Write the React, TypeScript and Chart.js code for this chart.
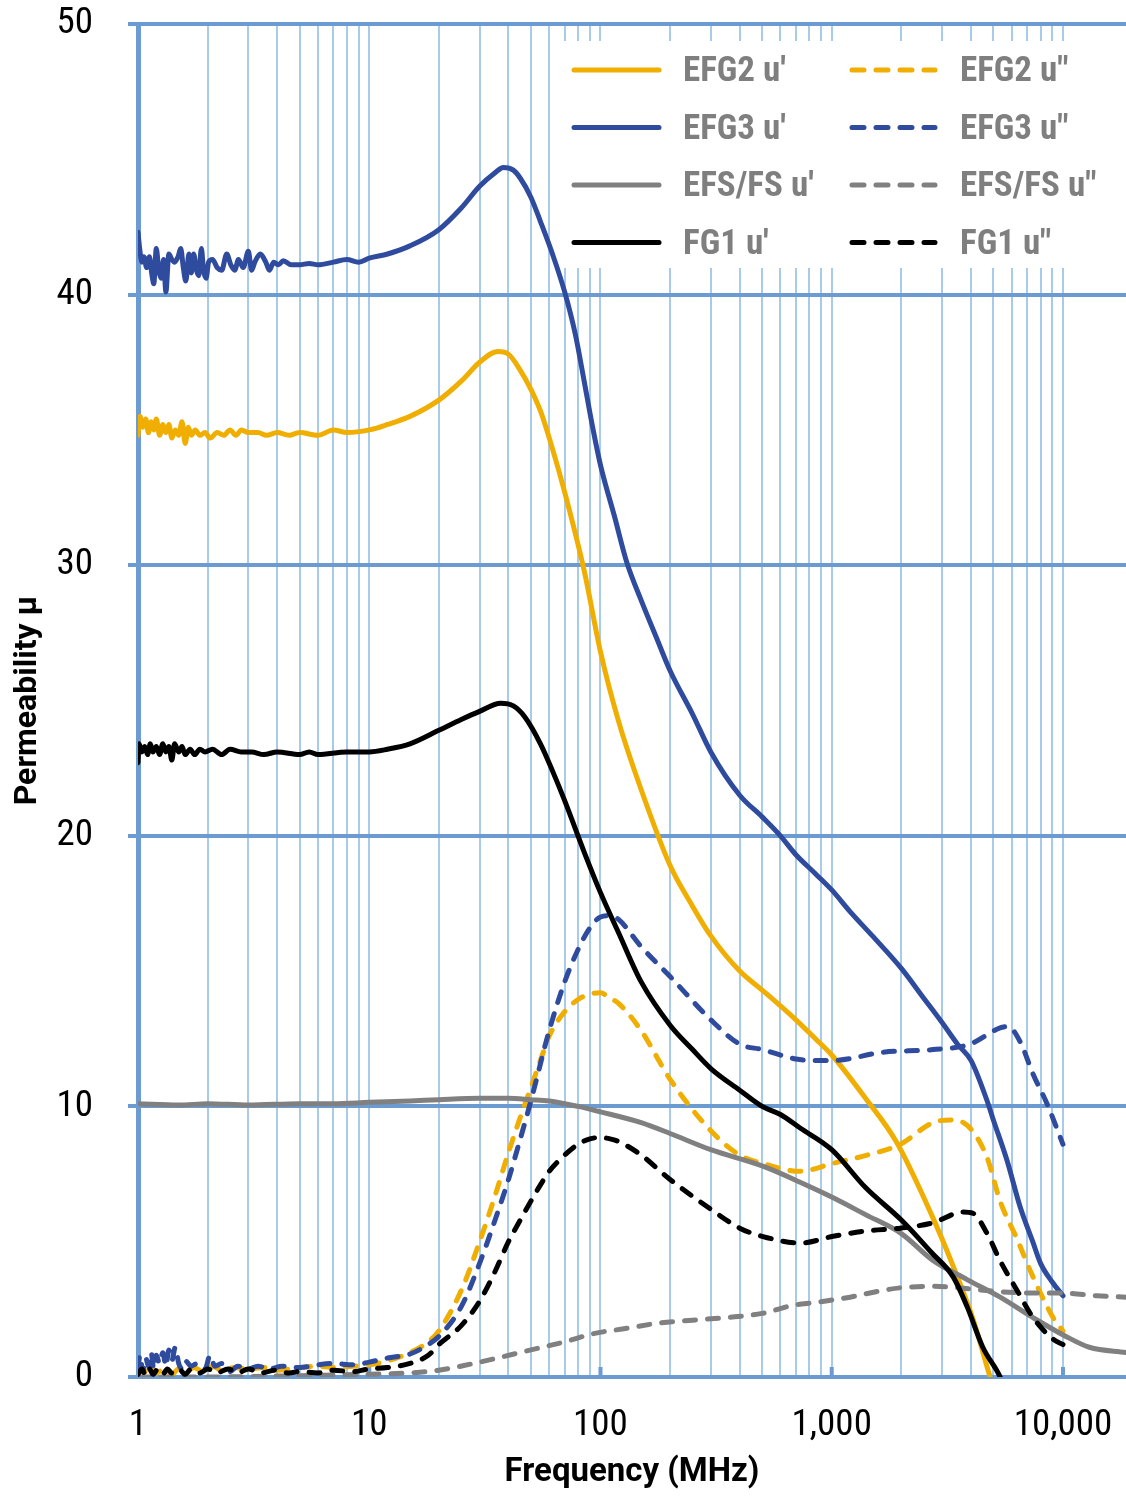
import React, { useEffect, useRef } from 'react';
import { Chart, registerables } from 'chart.js';

Chart.register(...registerables);

// ---------- data (frequency in MHz, permeability) ----------
const efg2RealFreq = [1.0, 1.02, 1.05, 1.08, 1.11, 1.14, 1.17, 1.2, 1.24, 1.28, 1.32, 1.36, 1.4, 1.45, 1.5, 1.55, 1.6, 1.65, 1.7, 1.77, 1.85, 1.95, 2.05, 2.2, 2.35, 2.5, 2.65, 2.8, 3.0, 3.3, 3.6, 4.0, 4.5, 5.0, 6.0, 7.0, 8.0, 10, 12, 15, 20, 25, 30, 36, 40, 45, 50, 55, 62, 70, 85, 100, 120, 150, 200, 250, 300, 400, 500, 700, 850, 1000, 1400, 1900, 2700, 3350, 4100, 4840, 5300];
const efg2RealVals = [34.8, 35.5, 35.1, 35.4, 34.9, 35.3, 35.0, 35.4, 34.8, 35.2, 34.9, 35.2, 34.7, 35.0, 34.8, 35.3, 34.5, 35.1, 34.8, 35.0, 34.8, 34.9, 34.7, 34.9, 34.8, 35.0, 34.8, 35.0, 34.9, 34.9, 34.8, 34.9, 34.8, 34.9, 34.8, 35.0, 34.9, 35.0, 35.2, 35.5, 36.1, 36.8, 37.5, 37.9, 37.8, 37.2, 36.5, 35.7, 34.3, 32.7, 29.8, 26.8, 24.2, 21.7, 18.9, 17.4, 16.3, 15.0, 14.3, 13.2, 12.5, 11.9, 10.3, 8.7, 6.0, 4.1, 2.1, 0, -1];

const efg2ImagFreq = [1.0, 1.05, 1.1, 1.15, 1.2, 1.3, 1.4, 1.5, 1.6, 1.75, 1.9, 2.1, 2.3, 2.6, 3.0, 3.5, 4.0, 5.0, 6.0, 7.0, 8.5, 10, 12, 15, 18, 20, 25, 30, 35, 40, 45, 50, 55, 60, 70, 80, 90, 100, 110, 120, 150, 200, 300, 400, 500, 731, 1014, 1423, 1977, 2740, 3350, 3960, 4700, 5345, 6330, 7420, 9060, 10000];
const efg2ImagVals = [0.1, 0.3, 0.1, 0.35, 0.15, 0.3, 0.1, 0.3, 0.2, 0.35, 0.2, 0.4, 0.25, 0.35, 0.3, 0.35, 0.25, 0.35, 0.4, 0.35, 0.4, 0.45, 0.6, 0.9, 1.3, 1.7, 3.2, 5.0, 6.7, 8.3, 9.6, 10.7, 11.7, 12.6, 13.5, 13.95, 14.15, 14.2, 14.0, 13.8, 12.8, 11.0, 9.1, 8.2, 7.9, 7.6, 7.9, 8.2, 8.6, 9.4, 9.5, 9.2, 8.1, 6.5, 5.1, 3.7, 2.2, 1.7];

const efg3RealFreq = [1.0, 1.02, 1.04, 1.06, 1.09, 1.12, 1.15, 1.17, 1.2, 1.23, 1.26, 1.29, 1.32, 1.36, 1.4, 1.44, 1.49, 1.53, 1.57, 1.61, 1.66, 1.7, 1.74, 1.79, 1.83, 1.88, 1.92, 1.97, 2.02, 2.1, 2.2, 2.3, 2.42, 2.52, 2.62, 2.72, 2.85, 3.0, 3.1, 3.2, 3.38, 3.57, 3.7, 3.86, 4.05, 4.25, 4.6, 5.0, 5.5, 6.0, 7.0, 8.0, 9.0, 10, 12, 15, 20, 25, 30, 35, 38, 42, 45, 50, 55, 62, 70, 78, 85, 92, 100, 115, 130, 150, 175, 200, 250, 300, 400, 500, 600, 700, 850, 1000, 1200, 1500, 2000, 2500, 3000, 3500, 4000, 4700, 5000, 5730, 6520, 7400, 8000, 9000, 10000];
const efg3RealVals = [42.3, 41.6, 41.2, 41.4, 41.0, 41.4, 40.7, 40.4, 41.7, 40.9, 40.6, 41.3, 40.1, 41.5, 41.3, 41.2, 41.4, 41.7, 41.0, 40.5, 41.5, 40.8, 41.5, 40.9, 40.7, 41.7, 40.9, 40.6, 41.2, 41.3, 41.0, 40.9, 41.5, 41.1, 40.9, 41.3, 41.0, 41.6, 40.9, 41.2, 41.5, 41.2, 40.9, 41.2, 41.1, 41.25, 41.1, 41.1, 41.15, 41.1, 41.2, 41.3, 41.2, 41.35, 41.5, 41.8, 42.4, 43.2, 44.0, 44.5, 44.7, 44.6, 44.3, 43.6, 42.7, 41.5, 40.1, 38.5, 36.8, 35.2, 33.7, 31.8, 30.1, 28.7, 27.3, 26.1, 24.5, 23.1, 21.5, 20.7, 20.0, 19.3, 18.6, 18.0, 17.2, 16.3, 15.1, 14.0, 13.1, 12.3, 11.7, 10.2, 9.5, 8.0, 6.3, 5.0, 4.2, 3.5, 3.0];

const efg3ImagFreq = [1.0, 1.02, 1.05, 1.08, 1.11, 1.14, 1.17, 1.2, 1.24, 1.28, 1.32, 1.36, 1.4, 1.45, 1.5, 1.55, 1.6, 1.7, 1.8, 1.95, 2.05, 2.15, 2.3, 2.5, 2.7, 3.0, 3.3, 3.7, 4.2, 5.0, 6.0, 7.0, 8.5, 10, 12, 15, 18, 20, 25, 30, 35, 40, 45, 50, 60, 70, 80, 90, 100, 110, 120, 150, 200, 300, 400, 500, 700, 807, 1014, 1660, 2740, 3960, 5345, 5780, 6520, 7420, 8530, 10000];
const efg3ImagVals = [0.3, 0.8, 0.2, 0.7, 0.4, 0.9, 0.3, 0.8, 0.5, 0.9, 0.4, 1.0, 0.6, 1.1, 0.5, 0.3, 0.6, 0.4, 0.5, 0.3, 0.8, 0.4, 0.5, 0.2, 0.4, 0.3, 0.4, 0.3, 0.4, 0.35, 0.45, 0.5, 0.45, 0.55, 0.7, 0.85, 1.2, 1.5, 2.6, 4.2, 5.8, 7.3, 8.8, 10.2, 12.8, 14.6, 15.8, 16.6, 17.0, 17.05, 16.9, 15.9, 14.8, 13.2, 12.3, 12.1, 11.75, 11.7, 11.7, 12.0, 12.1, 12.3, 12.9, 12.95, 12.4, 11.2, 10.1, 8.6];

const efsRealFreq = [1, 1.5, 2, 3, 5, 7, 10, 15, 20, 30, 40, 50, 60, 80, 100, 150, 200, 300, 500, 730, 1000, 1400, 2000, 2750, 3850, 5350, 7400, 10300, 13000, 18730];
const efsRealVals = [10.1, 10.05, 10.1, 10.05, 10.1, 10.1, 10.15, 10.2, 10.25, 10.3, 10.3, 10.25, 10.2, 10.0, 9.8, 9.4, 9.0, 8.4, 7.8, 7.2, 6.65, 6.0, 5.3, 4.3, 3.6, 2.95, 2.2, 1.5, 1.1, 0.9];

const efsImagFreq = [1, 2, 5, 10, 15, 20, 30, 50, 70, 93, 130, 181, 250, 354, 500, 682, 850, 1014, 1200, 1660, 2000, 2740, 4000, 5345, 7500, 10000, 14000, 18730];
const efsImagVals = [0.0, 0.0, 0.05, 0.1, 0.15, 0.25, 0.55, 1.0, 1.3, 1.6, 1.8, 2.0, 2.1, 2.2, 2.35, 2.65, 2.75, 2.85, 2.95, 3.2, 3.3, 3.35, 3.25, 3.15, 3.1, 3.1, 3.0, 2.95];

const fg1RealFreq = [1.0, 1.01, 1.04, 1.07, 1.1, 1.13, 1.16, 1.2, 1.24, 1.28, 1.32, 1.36, 1.4, 1.44, 1.5, 1.55, 1.6, 1.68, 1.76, 1.85, 1.95, 2.1, 2.3, 2.5, 2.8, 3.1, 3.5, 4, 5, 5.5, 6, 8, 10, 12, 15, 20, 25, 30, 37, 42, 47, 55, 62, 70, 85, 100, 120, 150, 200, 250, 300, 400, 500, 600, 730, 1000, 1400, 2000, 2700, 3350, 3850, 4500, 5350, 5800];
const fg1RealVals = [22.7, 23.4, 23.1, 23.3, 23.0, 23.4, 23.1, 23.3, 23.0, 23.4, 23.1, 23.3, 22.8, 23.4, 23.1, 23.3, 23.0, 23.2, 23.0, 23.2, 23.1, 23.2, 23.0, 23.2, 23.1, 23.1, 23.0, 23.1, 23.0, 23.1, 23.0, 23.1, 23.1, 23.2, 23.4, 23.9, 24.3, 24.6, 24.9, 24.8, 24.4, 23.4, 22.4, 21.3, 19.4, 17.9, 16.4, 14.6, 13.0, 12.1, 11.4, 10.6, 10.0, 9.7, 9.2, 8.4, 7.0, 5.8, 4.6, 3.7, 2.6, 1.1, 0, -0.8];

const fg1ImagFreq = [1.0, 1.04, 1.08, 1.12, 1.16, 1.22, 1.28, 1.34, 1.4, 1.5, 1.6, 1.7, 1.85, 2.0, 2.2, 2.45, 2.7, 3.0, 3.4, 3.9, 4.5, 5.0, 6.0, 7.0, 8.5, 10, 12, 15, 18, 20, 25, 30, 35, 40, 45, 50, 55, 60, 70, 80, 90, 100, 110, 120, 150, 200, 300, 400, 500, 731, 1014, 1423, 1977, 2740, 3700, 4080, 4700, 5345, 6330, 7420, 9060, 10000];
const fg1ImagVals = [0.1, 0.3, 0.05, 0.3, 0.1, 0.3, 0.1, 0.3, 0.15, 0.3, 0.1, 0.3, 0.15, 0.3, 0.15, 0.3, 0.15, 0.3, 0.15, 0.25, 0.15, 0.2, 0.15, 0.25, 0.2, 0.3, 0.35, 0.5, 0.8, 1.2, 1.9, 2.8, 3.9, 5.0, 5.8, 6.5, 7.1, 7.6, 8.2, 8.6, 8.8, 8.85, 8.8, 8.7, 8.2, 7.3, 6.2, 5.5, 5.2, 4.95, 5.2, 5.4, 5.5, 5.7, 6.1, 6.05, 5.3, 4.3, 3.2, 2.2, 1.4, 1.2];

const seriesLabels = ["EFG2 u'", 'EFG2 u"', "EFG3 u'", 'EFG3 u"', "EFS/FS u'", 'EFS/FS u"', "FG1 u'", 'FG1 u"'];

// axis ticks
const xDecades = [1, 10, 100, 1000, 10000];
const xTickLabels = ['1', '10', '100', '1,000', '10,000'];
const xMultipliers = [1, 2, 3, 4, 5, 6, 7, 8, 9];
const xMin = 1;
const xMax = 18730;
const yMin = 0;
const yMax = 50;
const yStep = 10;

// ---------- styles ----------
const ORANGE = '#F0AE00';
const BLUE = '#2F4B9E';
const GRAY = '#808080';
const BLACK = '#000000';
const GRID_MAJOR = '#6B9BD1';
const GRID_MINOR = '#A8CBEA';
const NARROW = "'Roboto Condensed', 'Liberation Sans Narrow', Roboto, sans-serif";
const TITLE = "Roboto, sans-serif";

const toXY = (f: number[], v: number[]) => f.map((x, i) => ({ x, y: v[i] }));

const zeroPadding = (scale: any) => {
  scale.paddingTop = 0;
  scale.paddingBottom = 0;
  scale.paddingLeft = 0;
  scale.paddingRight = 0;
};

const legendPlugin = {
  id: 'insideLegend',
  beforeDatasetsDraw(chart: any) {
    const { ctx, chartArea, scales } = chart;
    ctx.save();
    // white legend box
    ctx.fillStyle = '#ffffff';
    ctx.fillRect(556, 41, chartArea.right - 8 - 556, 227);
    // decade tick marks inside plot area
    const xs = scales.x;
    ctx.fillStyle = GRID_MAJOR;
    xDecades.slice(1).forEach((d) => {
      const px = xs.getPixelForValue(d);
      ctx.fillRect(px - 2, chartArea.bottom - 10, 4, 10);
    });
    // legend entries
    chart.data.datasets.forEach((ds: any, i: number) => {
      const col = i % 2;
      const row = Math.floor(i / 2);
      const y = 70 + row * 57.5;
      const x0 = col ? 852 : 574;
      const x1 = col ? 935 : 659;
      const tx = col ? 960 : 683;
      ctx.strokeStyle = ds.borderColor;
      ctx.lineWidth = 5;
      ctx.lineCap = 'round';
      ctx.setLineDash(ds.borderDash && ds.borderDash.length ? [12, 12] : []);
      ctx.beginPath();
      ctx.moveTo(x0, y);
      ctx.lineTo(x1, y);
      ctx.stroke();
      ctx.setLineDash([]);
      ctx.fillStyle = '#7F7F7F';
      ctx.font = `bold 35px ${NARROW}`;
      ctx.textAlign = 'left';
      ctx.textBaseline = 'alphabetic';
      ctx.fillText(ds.label, tx, y + 11);
    });
    ctx.restore();
  },
};

export default function App() {
  const ref = useRef<HTMLCanvasElement>(null);

  useEffect(() => {
    document.body.style.margin = '0';
    const canvas = ref.current;
    if (!canvas) return;

    const mk = (i: number, f: number[], v: number[], color: string, dashed: boolean) => ({
      label: seriesLabels[i],
      data: toXY(f, v),
      borderColor: color,
      backgroundColor: color,
      borderWidth: 5,
      borderDash: dashed ? [11, 12] : [],
      borderCapStyle: 'round' as const,
      borderJoinStyle: 'round' as const,
      pointRadius: 0,
      cubicInterpolationMode: 'monotone' as const,
      fill: false,
      order: 8 - i,
    });

    const datasets = [
      mk(0, efg2RealFreq, efg2RealVals, ORANGE, false),
      mk(1, efg2ImagFreq, efg2ImagVals, ORANGE, true),
      mk(2, efg3RealFreq, efg3RealVals, BLUE, false),
      mk(3, efg3ImagFreq, efg3ImagVals, BLUE, true),
      mk(4, efsRealFreq, efsRealVals, GRAY, false),
      mk(5, efsImagFreq, efsImagVals, GRAY, true),
      mk(6, fg1RealFreq, fg1RealVals, BLACK, false),
      mk(7, fg1ImagFreq, fg1ImagVals, BLACK, true),
    ];

    const gridValues: number[] = [];
    xDecades.forEach((d) => {
      if (d === 10000) gridValues.push(d);
      else xMultipliers.forEach((m) => gridValues.push(m * d));
    });

    const chart = new Chart(canvas, {
      type: 'line',
      data: { datasets },
      plugins: [legendPlugin],
      options: {
        animation: false,
        responsive: false,
        devicePixelRatio: 1,
        layout: { padding: { top: 24, right: 0, left: 0, bottom: 0 } },
        plugins: {
          legend: { display: false },
          tooltip: { enabled: false },
        },
        scales: {
          x: {
            type: 'logarithmic',
            min: xMin,
            max: xMax,
            afterBuildTicks: (scale: any) => {
              scale.ticks = gridValues.map((v) => ({ value: v }));
            },
            afterFit: (scale: any) => {
              scale.height = 119;
              zeroPadding(scale);
            },
            ticks: {
              autoSkip: false,
              maxRotation: 0,
              minRotation: 0,
              padding: 27,
              color: '#000',
              font: { family: NARROW, size: 37 },
              callback: (value: any) => {
                const idx = xDecades.indexOf(Number(value));
                return idx >= 0 ? xTickLabels[idx] : '';
              },
            },
            grid: {
              color: GRID_MINOR,
              lineWidth: 2,
              drawTicks: false,
            },
            border: { display: true, color: GRID_MAJOR, width: 4 },
            title: {
              display: true,
              text: 'Frequency (MHz)',
              color: '#000',
              font: { family: TITLE, size: 33, weight: 'bold' },
              padding: 3,
            },
          },
          y: {
            type: 'linear',
            min: yMin,
            max: yMax,
            afterFit: (scale: any) => {
              scale.width = 138;
              zeroPadding(scale);
            },
            ticks: {
              stepSize: yStep,
              padding: 35,
              color: '#000',
              font: { family: NARROW, size: 37 },
            },
            grid: {
              color: GRID_MAJOR,
              lineWidth: 4,
              drawTicks: true,
              tickLength: 10,
            },
            border: { display: true, color: GRID_MAJOR, width: 5 },
            title: {
              display: true,
              text: 'Permeability μ',
              color: '#000',
              font: { family: TITLE, size: 32, weight: 'bold' },
              padding: 9,
            },
          },
        },
      },
    } as any);

    return () => chart.destroy();
  }, []);

  return (
    <canvas
      ref={ref}
      width={1126}
      height={1496}
      style={{ display: 'block', width: 1126, height: 1496 }}
    />
  );
}
